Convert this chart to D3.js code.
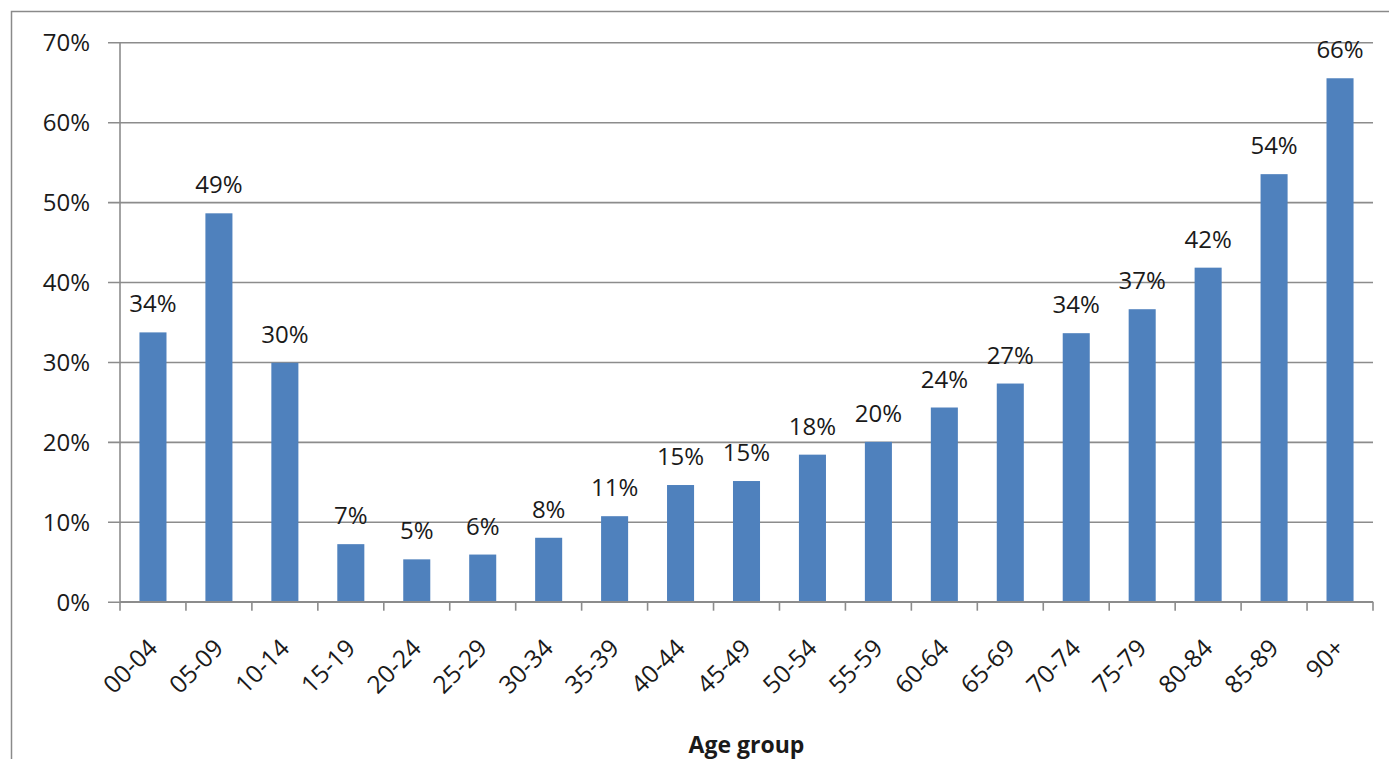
<!DOCTYPE html>
<html>
<head>
<meta charset="utf-8">
<script src="https://cdn.jsdelivr.net/npm/d3@7"></script>
<style>
  html, body { margin: 0; padding: 0; background: #fff; }
  svg { display: block; }
  text { font-family: "Open Sans", "DejaVu Sans", sans-serif; fill: #1a1a1a; }
</style>
</head>
<body>
<svg id="chart" width="1389" height="759"></svg>
<script>
// Share by age group
const ageGroups = ["00-04", "05-09", "10-14", "15-19", "20-24", "25-29", "30-34", "35-39",
  "40-44", "45-49", "50-54", "55-59", "60-64", "65-69", "70-74", "75-79", "80-84", "85-89", "90+"];
const shares = [0.337, 0.486, 0.299, 0.072, 0.053, 0.059, 0.080, 0.107,
  0.146, 0.151, 0.184, 0.2, 0.243, 0.273, 0.336, 0.366, 0.418, 0.535, 0.655];
const yTicks = [0, 0.1, 0.2, 0.3, 0.4, 0.5, 0.6, 0.7];
const xTitle = "Age group";

(function draw() {
  const svg = d3.select("#chart");
  const W = 1389, H = 759;
  const plotLeft = 120, plotRight = 1373, plotTop = 42.3, plotBottom = 601.7;

  const fmt = d3.format(".0%");

  // outer frame
  svg.append("rect")
    .attr("x", 11.5).attr("y", 11.5)
    .attr("width", W + 20).attr("height", H + 20)
    .attr("fill", "none").attr("stroke", "#8a8a8a").attr("stroke-width", 1.5);

  const x = d3.scaleBand().domain(ageGroups).range([plotLeft, plotRight])
    .paddingInner(0.59).paddingOuter(0.295);
  const y = d3.scaleLinear().domain([0, 0.7]).range([plotBottom, plotTop]);

  // horizontal gridlines with left tick stubs
  const yAxis = d3.axisLeft(y).tickValues(yTicks).tickFormat(fmt)
    .tickSize(-(plotRight - plotLeft)).tickPadding(18);
  const gy = svg.append("g").attr("transform", `translate(${plotLeft},0)`).call(yAxis);
  gy.select(".domain").remove();
  gy.selectAll(".tick line")
    .attr("x1", -12)
    .attr("stroke", "#8c8c8c").attr("stroke-width", 1.6);
  gy.selectAll(".tick text")
    .attr("font-size", 24).attr("dy", "0.36em").attr("x", -30)
    .attr("fill", "#1a1a1a").attr("font-family", null);

  // vertical axis line
  svg.append("line")
    .attr("x1", plotLeft).attr("x2", plotLeft)
    .attr("y1", plotTop).attr("y2", plotBottom)
    .attr("stroke", "#8c8c8c").attr("stroke-width", 1.6);

  // bars
  svg.append("g").selectAll("rect")
    .data(ageGroups)
    .join("rect")
    .attr("x", d => x(d))
    .attr("width", x.bandwidth())
    .attr("y", (d, i) => y(shares[i]))
    .attr("height", (d, i) => y(0) - y(shares[i]))
    .attr("fill", "#4f81bd");

  // value labels
  svg.append("g").selectAll("text")
    .data(ageGroups)
    .join("text")
    .attr("x", d => x(d) + x.bandwidth() / 2)
    .attr("y", (d, i) => y(shares[i]) - 20)
    .attr("text-anchor", "middle")
    .attr("font-size", 24)
    .text((d, i) => fmt(shares[i]));

  // bottom axis: ticks at category boundaries
  const step = x.step();
  const boundaries = d3.range(ageGroups.length + 1).map(i => plotLeft + i * step);
  svg.append("line")
    .attr("x1", plotLeft).attr("x2", plotRight)
    .attr("y1", plotBottom).attr("y2", plotBottom)
    .attr("stroke", "#8c8c8c").attr("stroke-width", 1.6);
  svg.append("g").selectAll("line")
    .data(boundaries)
    .join("line")
    .attr("x1", d => d).attr("x2", d => d)
    .attr("y1", plotBottom).attr("y2", plotBottom + 9)
    .attr("stroke", "#8c8c8c").attr("stroke-width", 1.6);

  // rotated category labels
  svg.append("g").selectAll("text")
    .data(ageGroups)
    .join("text")
    .attr("transform", d => `translate(${x(d) + x.bandwidth() / 2 + 6},${plotBottom + 48}) rotate(-45)`)
    .attr("text-anchor", "end")
    .attr("font-size", 24.5)
    .text(d => d);

  // axis title
  svg.append("text")
    .attr("x", (plotLeft + plotRight) / 2)
    .attr("y", 753)
    .attr("text-anchor", "middle")
    .attr("font-size", 23)
    .attr("font-weight", "bold")
    .text(xTitle);
})();
</script>
</body>
</html>
